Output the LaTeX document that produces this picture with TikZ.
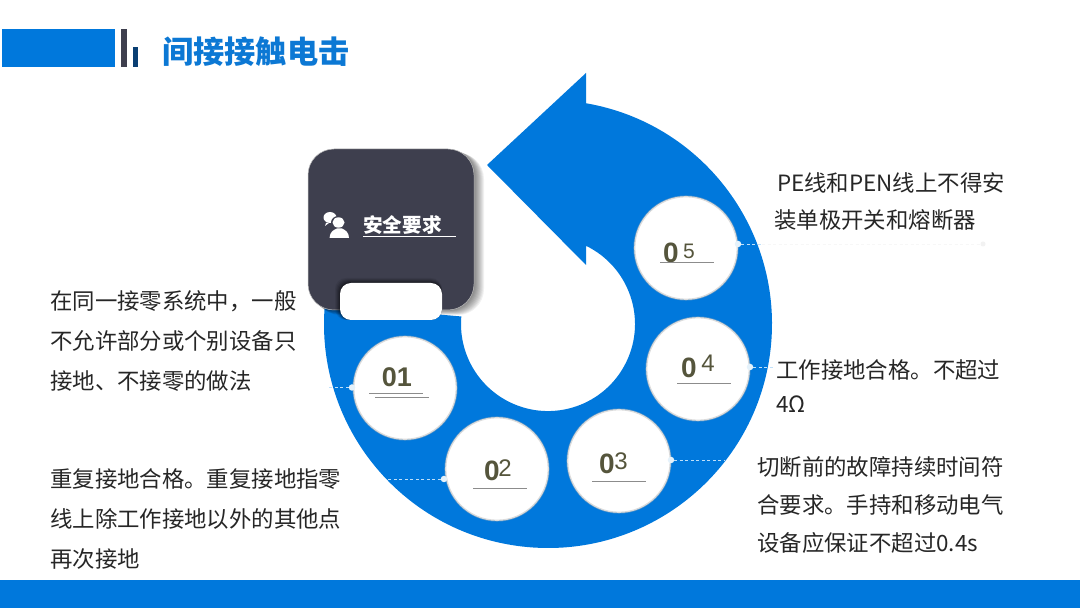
\documentclass[tikz,border=0pt]{standalone}
\usepackage{fontspec}
\setmainfont{Noto Sans CJK SC}
\newfontfamily\numfont{Liberation Sans}
\definecolor{brand}{HTML}{0078DC}
\definecolor{titleblue}{HTML}{0C78D4}
\definecolor{cardgray}{HTML}{3E3F4E}
\definecolor{navybar}{HTML}{0A3F73}
\definecolor{numcol}{HTML}{55553C}
\definecolor{dashcol}{HTML}{BFE0FA}
\tikzset{
  badge/.style={circle,minimum size=102.5pt,inner sep=0pt,fill=white,draw=black!14,line width=1.2pt,
    preaction={draw=black!30,line width=2.6pt,opacity=.45}},
  tiplabel/.style={anchor=base west,inner sep=0pt,align=left,text=black!85,font=\fontsize{22.4}{40}\selectfont},
  bigd/.style={anchor=base,inner sep=0pt,text=numcol,font=\numfont\bfseries\fontsize{28}{28}\selectfont},
  smalld/.style={anchor=base,inner sep=0pt,text=numcol,font=\numfont\fontsize{24}{24}\selectfont},
  rule/.style={draw=black!45,line width=.8pt},
  enddot/.style={circle,fill=white!90!brand,minimum size=6.5pt,inner sep=0pt},
  leader/.style={draw=dashcol,line width=.9pt,dash pattern=on 3pt off 2.5pt},
}
\begin{document}
\begin{tikzpicture}[x=1pt,y=1pt]
\useasboundingbox (0,0) rectangle (1080,608);
\fill[white] (0,0) rectangle (1080,608);
% header and footer
\fill[brand] (2,541) rectangle (115,579);
\fill[cardgray] (121,541) rectangle (127,579);
\fill[navybar] (133,541) rectangle (138,561);
\fill[brand] (0,0) rectangle (1080,28);
\node[anchor=west,inner sep=0pt,text=titleblue,font=\bfseries\fontsize{31.2}{31}\selectfont] (title) at (162,556) {间接接触电击};
% ring arrow
\path (175:224) ++(548,284) coordinate (ringstart);
\fill[brand] (ringstart) arc[start angle=175,end angle=440.2,radius=224] -- (586,535) -- (487,443) -- (586,343) -- (586,362.2) arc[start angle=424.1,end angle=175,radius=87] -- cycle;
% card shadow
\foreach \o in {1,2,...,10}{
  \fill[black,opacity=.055,rounded corners=26pt] (308+\o*.6,298-\o*.5) rectangle (474+\o,459-\o*.4);
}
\fill[cardgray,rounded corners=26pt] (308,298) rectangle (474,459);
\draw[black!25,line width=.5pt,rounded corners=26pt] (308,298) rectangle (474,459);
% notch
\foreach \o/\op in {5/.07,4/.09,3/.12,2/.15,1/.18}{
  \fill[black,opacity=\op,rounded corners=11pt] (340-\o,288) rectangle (442,325+\o);
}
\fill[white,rounded corners=11pt] (340,288) rectangle (442,325);
% card label
\node[anchor=base west,inner sep=0pt,text=white,font=\bfseries\fontsize{19.6}{20}\selectfont] (safety) at (363,375) {安全要求};
\coordinate (safeA) at (363,372);
\coordinate (safeB) at (456,372);
\draw[white,line width=.8pt] (safeA) -- (safeB);
% chat icon
\fill[white] (330,390.5) ellipse[x radius=6.5,y radius=5.5];
\fill[white] (326,385) -- (325,382) -- (329,385) -- cycle;
\fill[cardgray] (338.5,385.5) ellipse[x radius=7.5,y radius=6.5];
\fill[white] (338.5,385.5) ellipse[x radius=6,y radius=5.2];
\fill[white] (329.5,370) -- (349,370) .. controls (349,376) and (345,378) .. (342,379.5) -- (337,379.5) .. controls (333,378) and (330,376) .. (329.5,370) -- cycle;
% badges
\node[badge] (b1) at (405,220) {};
\node[badge] (b2) at (497,139) {};
\node[badge] (b3) at (619,147) {};
\node[badge] (b4) at (698,239) {};
\node[badge] (b5) at (686,360) {};
% badge numbers
\node[bigd,font=\numfont\bfseries\fontsize{27}{27}\selectfont] (n1) at (397,221) {01};
\draw[rule] (369,215) -- (423,215);
\draw[rule] (375,211) -- (429,211);
\node[bigd] (n2a) at (492,127) {0};
\node[smalld] (n2b) at (505,131) {2};
\draw[rule] (473,120) -- (527,120);
\node[bigd] (n3a) at (607,134) {0};
\node[smalld] (n3b) at (621,138) {3};
\draw[rule] (592,127) -- (646,127);
\node[bigd] (n4a) at (689,230) {0};
\node[smalld] (n4b) at (708,236) {4};
\draw[rule] (677,225) -- (731,225);
\node[bigd] (n5a) at (671,345) {0};
\node[smalld,font=\numfont\fontsize{21}{21}\selectfont] (n5b) at (689,349) {5};
\draw[rule] (660,346) -- (714,346);
% leaders
\node[enddot] (d1) at (352,220.5) {};
\node[enddot] (d2) at (444,129) {};
\node[enddot] (d3) at (671,148) {};
\node[enddot] (d4) at (750,241) {};
\node[enddot] (d5) at (738,364) {};
\coordinate (e1) at (327,220.5);
\coordinate (e2) at (388,129);
\coordinate (e3) at (725,148);
\coordinate (e4) at (775,241);
\coordinate (e5) at (762,364);
\node[circle,fill=black!5,minimum size=5pt,inner sep=0pt] (f5) at (983,364) {};
\draw[leader] (d1) -- (e1);
\draw[leader] (d2) -- (e2);
\draw[leader] (d3) -- (e3);
\draw[leader] (d4) -- (e4);
\draw[leader] (d5) -- (e5);
\draw[black!3,line width=.9pt,dash pattern=on 3pt off 2.5pt] (e5) -- (f5);
% texts
\node[tiplabel] (t1) at (50,218) {在同一接零系统中，一般\\不允许部分或个别设备只\\接地、不接零的做法};
\node[tiplabel] (t2) at (50,40) {重复接地合格。重复接地指零\\线上除工作接地以外的其他点\\再次接地};
\node[tiplabel,font=\fontsize{22.4}{38}\selectfont] (t3) at (757,56) {切断前的故障持续时间符\\合要求。手持和移动电气\\设备应保证不超过0.4s};
\node[tiplabel,font=\fontsize{22.4}{34}\selectfont] (t4) at (776,195) {工作接地合格。不超过\\4Ω};
\node[tiplabel,font=\fontsize{22.4}{37}\selectfont] (t5) at (774,379) {\hspace*{3pt}PE线和PEN线上不得安\\装单极开关和熔断器};
\end{tikzpicture}
\end{document}
